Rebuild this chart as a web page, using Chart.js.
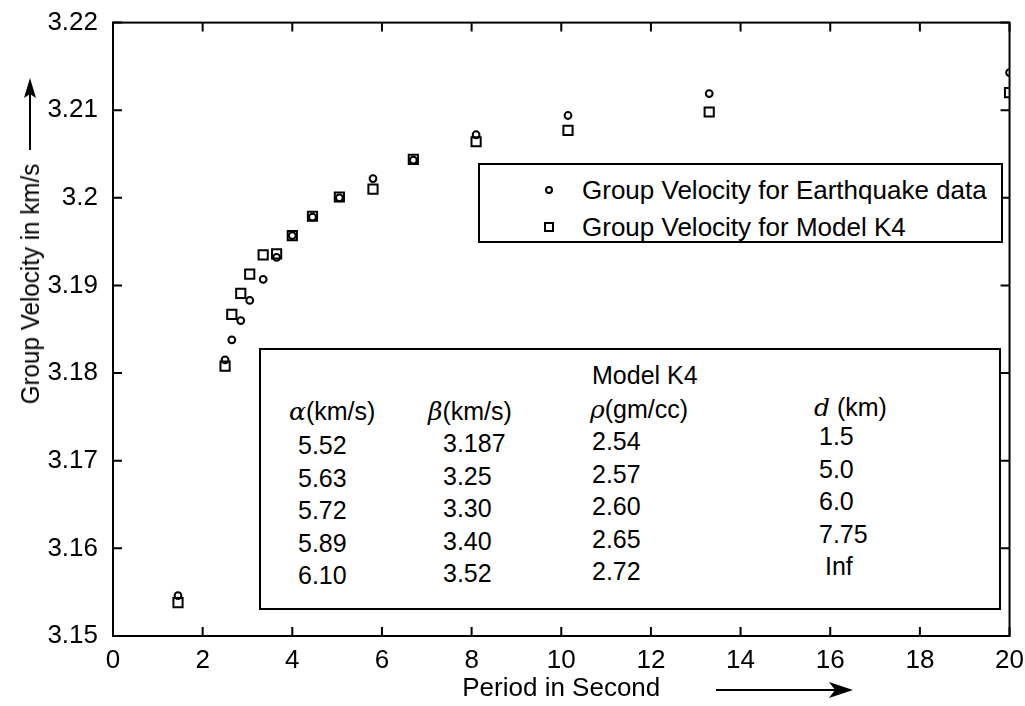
<!DOCTYPE html>
<html lang="en">
<head>
  <meta charset="UTF-8">
  <title>Group Velocity vs Period</title>
  <style>
    * {
      margin: 0;
      padding: 0;
      box-sizing: border-box;
    }

    body {
      background-color: #fff;
      font-family: "Liberation Sans", Arial, sans-serif;
      color: #000;
    }

    #wrap {
      position: relative;
      width: 1025px;
      height: 706px;
    }

    #ytitle {
      position: absolute;
      left: -120px;
      top: 269px;
      width: 300px;
      height: 30px;
      line-height: 30px;
      font-size: 26px;
      text-align: center;
      transform: rotate(-90deg) scaleX(0.93);
      white-space: nowrap;
    }

    .box {
      position: absolute;
      border: 2px solid #000;
      background-color: #fff;
    }

    .box span {
      position: absolute;
      white-space: nowrap;
      line-height: 30px;
    }

    .mark-circle {
      width: 8px;
      height: 8px;
      border: 2px solid #000;
      border-radius: 50%;
    }

    .mark-square {
      width: 10px;
      height: 10px;
      border: 2px solid #000;
    }

    .greek {
      font-family: "DejaVu Serif", serif;
      font-style: italic;
    }
  </style>
  <script src="https://cdn.jsdelivr.net/npm/chart.js"></script>
</head>
<body>
  <div id="wrap">
    <canvas id="velocityChart" width="1025" height="706"></canvas>
    <div id="ytitle">Group Velocity in km/s</div>
    <div id="legendBox" class="box" style="left:478px; top:163px; width:525px; height:80px;"></div>
    <div id="paramBox" class="box" style="left:259px; top:348px; width:742px; height:262px;"></div>
  </div>

  <script>
    // Period (s) and group velocity (km/s)
    const periods = [1.45, 2.5, 2.65, 2.85, 3.05, 3.35, 3.65, 4.0, 4.45, 5.05, 5.8, 6.7, 8.1, 10.15, 13.3, 20];
    const quakeVel = [3.1546, 3.1815, 3.1838, 3.1860, 3.1883, 3.1907, 3.1932, 3.1957, 3.1978, 3.2000, 3.2022, 3.2043, 3.2072, 3.2094, 3.2119, 3.2143];
    const modelVel = [3.1538, 3.1808, 3.1867, 3.1891, 3.1913, 3.1935, 3.1936, 3.1957, 3.1979, 3.2001, 3.2010, 3.2044, 3.2064, 3.2077, 3.2098, 3.2120];

    const xTickLabels = ['0', '2', '4', '6', '8', '10', '12', '14', '16', '18', '20'];
    const yTickLabels = ['3.15', '3.16', '3.17', '3.18', '3.19', '3.2', '3.21', '3.22'];

    const seriesNames = ['Group Velocity for Earthquake data', 'Group Velocity for Model K4'];

    // Model K4 layer parameters
    const tableTitle = 'Model K4';
    const alphaVals = ['5.52', '5.63', '5.72', '5.89', '6.10'];
    const betaVals = ['3.187', '3.25', '3.30', '3.40', '3.52'];
    const rhoVals = ['2.54', '2.57', '2.60', '2.65', '2.72'];
    const depthVals = ['1.5', '5.0', '6.0', '7.75', 'Inf'];

    Chart.defaults.font.family = '"Liberation Sans", Arial, sans-serif';
    Chart.defaults.color = '#000';

    // Box frame, inward ticks on all four sides, and the two axis arrows
    const frameAndArrows = {
      id: 'frameAndArrows',
      afterDraw(chart) {
        const ctx = chart.ctx;
        const a = chart.chartArea;
        const xs = chart.scales.x;
        const ys = chart.scales.y;
        const len = 9;

        ctx.save();
        ctx.strokeStyle = '#000';
        ctx.lineWidth = 2;
        ctx.strokeRect(a.left, a.top, a.right - a.left, a.bottom - a.top);

        ctx.beginPath();
        xs.ticks.forEach(t => {
          const px = xs.getPixelForValue(t.value);
          ctx.moveTo(px, a.bottom);
          ctx.lineTo(px, a.bottom - len);
          ctx.moveTo(px, a.top);
          ctx.lineTo(px, a.top + len);
        });
        ys.ticks.forEach(t => {
          const py = ys.getPixelForValue(t.value);
          ctx.moveTo(a.left, py);
          ctx.lineTo(a.left + len, py);
          ctx.moveTo(a.right, py);
          ctx.lineTo(a.right - len, py);
        });
        ctx.stroke();

        // y arrow
        ctx.beginPath();
        ctx.moveTo(30, 150);
        ctx.lineTo(30, 92);
        ctx.stroke();
        ctx.fillStyle = '#000';
        ctx.beginPath();
        ctx.moveTo(30, 78);
        ctx.lineTo(24, 98);
        ctx.lineTo(30, 94);
        ctx.lineTo(36, 98);
        ctx.closePath();
        ctx.fill();

        // x arrow
        ctx.beginPath();
        ctx.moveTo(716, 690);
        ctx.lineTo(836, 690);
        ctx.stroke();
        ctx.beginPath();
        ctx.moveTo(853, 690);
        ctx.lineTo(829, 682);
        ctx.lineTo(835, 690);
        ctx.lineTo(829, 698);
        ctx.closePath();
        ctx.fill();
        ctx.restore();
      }
    };

    const ctx = document.getElementById('velocityChart').getContext('2d');

    const velocityChart = new Chart(ctx, {
      type: 'scatter',
      data: {
        datasets: [{
          label: seriesNames[0],
          data: periods.map((p, i) => ({ x: p, y: quakeVel[i] })),
          pointStyle: 'circle',
          pointRadius: 3.4,
          borderWidth: 2,
          borderColor: '#000',
          backgroundColor: 'rgba(0,0,0,0)'
        }, {
          label: seriesNames[1],
          data: periods.map((p, i) => ({ x: p, y: modelVel[i] })),
          pointStyle: 'rect',
          pointRadius: 6.5,
          borderWidth: 2,
          borderColor: '#000',
          backgroundColor: 'rgba(0,0,0,0)'
        }]
      },
      options: {
        responsive: false,
        animation: false,
        devicePixelRatio: 1,
        layout: {
          padding: { top: 20, right: 15, left: 0, bottom: 0 }
        },
        plugins: {
          legend: { display: false },
          tooltip: { enabled: false }
        },
        scales: {
          x: {
            type: 'linear',
            min: 0,
            max: 20,
            grid: { display: false },
            border: { display: false },
            ticks: {
              stepSize: 2,
              padding: 1,
              font: { size: 26 },
              maxRotation: 0,
              callback: (value) => xTickLabels[Math.round(value / 2)]
            },
            title: {
              display: true,
              text: 'Period in Second',
              font: { size: 26 },
              padding: { top: 0, bottom: 2 }
            },
            afterFit: (scale) => { scale.height = 70; }
          },
          y: {
            min: 3.15,
            max: 3.22,
            grid: { display: false },
            border: { display: false },
            ticks: {
              stepSize: 0.01,
              padding: 7,
              font: { size: 26 },
              callback: (value) => yTickLabels[Math.round((value - 3.15) * 100)]
            },
            afterFit: (scale) => { scale.width = 113; }
          }
        }
      },
      plugins: [frameAndArrows]
    });

    // Legend box built from the dataset labels
    const legendBox = document.getElementById('legendBox');
    velocityChart.data.datasets.forEach((ds, i) => {
      const cy = 25 + i * 37;
      const mark = document.createElement('span');
      mark.className = ds.pointStyle === 'rect' ? 'mark-square' : 'mark-circle';
      const size = ds.pointStyle === 'rect' ? 10 : 8;
      mark.style.left = (69 - size / 2) + 'px';
      mark.style.top = (cy - size / 2) + 'px';
      legendBox.appendChild(mark);

      const label = document.createElement('span');
      label.textContent = ds.label;
      label.style.left = '102px';
      label.style.top = (cy - 15) + 'px';
      label.style.fontSize = '26px';
      legendBox.appendChild(label);
    });

    // Parameter table for Model K4
    const paramBox = document.getElementById('paramBox');
    function addText(html, left, centerY) {
      const el = document.createElement('span');
      el.innerHTML = html;
      el.style.left = (left - 261) + 'px';
      el.style.top = (centerY - 15 - 350) + 'px';
      el.style.fontSize = '25px';
      paramBox.appendChild(el);
    }

    addText(tableTitle, 592, 375);
    addText('<span class="greek" style="position:static">α</span>(km/s)', 289, 411);
    addText('<span class="greek" style="position:static">β</span>(km/s)', 428, 411);
    addText('<span class="greek" style="position:static">ρ</span>(gm/cc)', 590, 409);
    addText('<span class="greek" style="position:static">d</span> (km)', 814, 407);

    const rowY = [442, 475, 507, 540, 572];
    alphaVals.forEach((v, i) => addText(v, 298, rowY[i] + 3));
    betaVals.forEach((v, i) => addText(v, 443, rowY[i] + 1));
    rhoVals.forEach((v, i) => addText(v, 592, rowY[i] - 1));
    depthVals.forEach((v, i) => addText(v, v === 'Inf' ? 825 : 819, rowY[i] - 6));
  </script>
</body>
</html>
